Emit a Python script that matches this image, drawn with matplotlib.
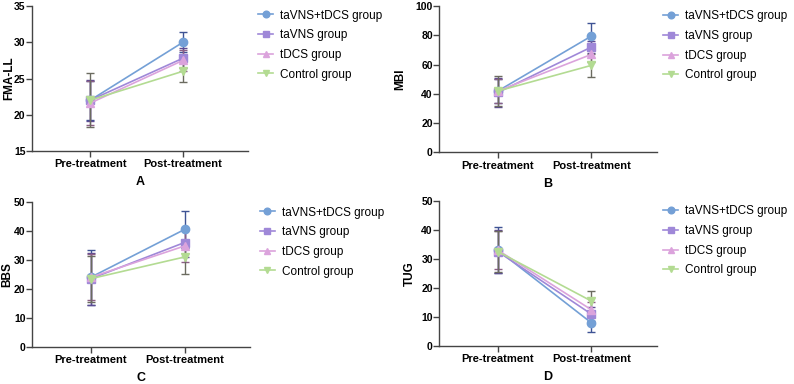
import matplotlib
matplotlib.use("Agg")
import matplotlib.pyplot as plt

plt.rcParams['font.family'] = ['Liberation Sans', 'DejaVu Sans']

timepoints = ['Pre-treatment', 'Post-treatment']
groups = ['taVNS+tDCS group', 'taVNS group', 'tDCS group', 'Control group']

# mean and sd per group: [pre, post]
fma_mean = [[22.0, 30.0], [22.0, 27.8], [21.6, 27.5], [22.0, 26.0]]
fma_sd = [[2.7, 1.4], [2.8, 1.4], [3.0, 1.5], [3.7, 1.5]]

mbi_mean = [[42.0, 79.5], [41.0, 72.0], [42.0, 67.0], [42.0, 59.5]]
mbi_sd = [[8.0, 9.0], [10.0, 4.0], [8.0, 5.0], [10.0, 8.0]]

bbs_mean = [[24.0, 40.5], [23.5, 36.0], [24.0, 34.8], [23.5, 31.0]]
bbs_sd = [[9.5, 6.5], [9.0, 5.0], [8.0, 5.5], [8.0, 6.0]]

tug_mean = [[33.0, 8.0], [32.5, 11.0], [33.0, 12.5], [32.5, 15.5]]
tug_sd = [[8.0, 3.2], [7.5, 2.5], [6.5, 2.5], [7.0, 3.5]]

line_colors = ['#74a0d6', '#9f88d8', '#dba3dc', '#b3db92']
err_colors = ['#3e5394', '#5d4b93', '#8c5f86', '#6b6b60']
markers = ['o', 's', '^', 'v']

panels = [
    (fma_mean, fma_sd, 'FMA-LL', 'A', (15, 35), [15, 20, 25, 30, 35],
     [0.040, 0.607, 0.272, 0.377], (0.325, 0.975), -0.076),
    (mbi_mean, mbi_sd, 'MBI', 'B', (0, 100), [0, 20, 40, 60, 80, 100],
     [0.553, 0.603, 0.274, 0.381], (0.835, 0.973), -0.151),
    (bbs_mean, bbs_sd, 'BBS', 'C', (0, 50), [0, 10, 20, 30, 40, 50],
     [0.040, 0.097, 0.275, 0.377], (0.327, 0.462), -0.087),
    (tug_mean, tug_sd, 'TUG', 'D', (0, 50), [0, 10, 20, 30, 40, 50],
     [0.553, 0.099, 0.274, 0.378], (0.835, 0.465), -0.106),
]

fig = plt.figure(figsize=(7.94, 3.84), dpi=100)

for means, sds, ylab, letter, ylim, yticks, pos, leg_pos, ylab_x in panels:
    ax = fig.add_axes(pos)
    x = [0, 1]
    for i, g in enumerate(groups):
        ax.errorbar(x, means[i], yerr=sds[i], fmt='none', ecolor=err_colors[i],
                    elinewidth=1.0, capsize=3, capthick=1.0, zorder=2)
        ax.plot(x, means[i], color=line_colors[i], marker=markers[i],
                markersize=6, linewidth=1.2, label=g, zorder=3)
    ax.set_xlim(-0.63, 1.70)
    ax.set_ylim(*ylim)
    ax.set_yticks(yticks)
    ax.set_xticks(x)
    ax.set_xticklabels(timepoints, fontsize=8, fontweight='bold')
    for t in ax.get_yticklabels():
        t.set_fontsize(7.5)
        t.set_fontweight('bold')
    ax.set_ylabel(ylab, fontsize=8.5, fontweight='bold')
    ax.yaxis.set_label_coords(ylab_x, 0.5)
    ax.set_xlabel(letter, fontsize=9, fontweight='bold', labelpad=5)
    ax.spines['top'].set_visible(False)
    ax.spines['right'].set_visible(False)
    for s in ['left', 'bottom']:
        ax.spines[s].set_color('#444444')
        ax.spines[s].set_linewidth(1.0)
    ax.tick_params(axis='both', direction='out', length=4, width=1.0,
                   color='#444444', pad=2)
    ax.tick_params(axis='y', pad=0.5)
    ax.legend(loc='upper left', bbox_to_anchor=leg_pos, bbox_transform=fig.transFigure,
              frameon=False, fontsize=8.5, handlelength=1.3, handletextpad=0.6,
              borderpad=0, borderaxespad=0, labelspacing=0.65, markerscale=0.8)

fig.savefig('out.png', dpi=100)
